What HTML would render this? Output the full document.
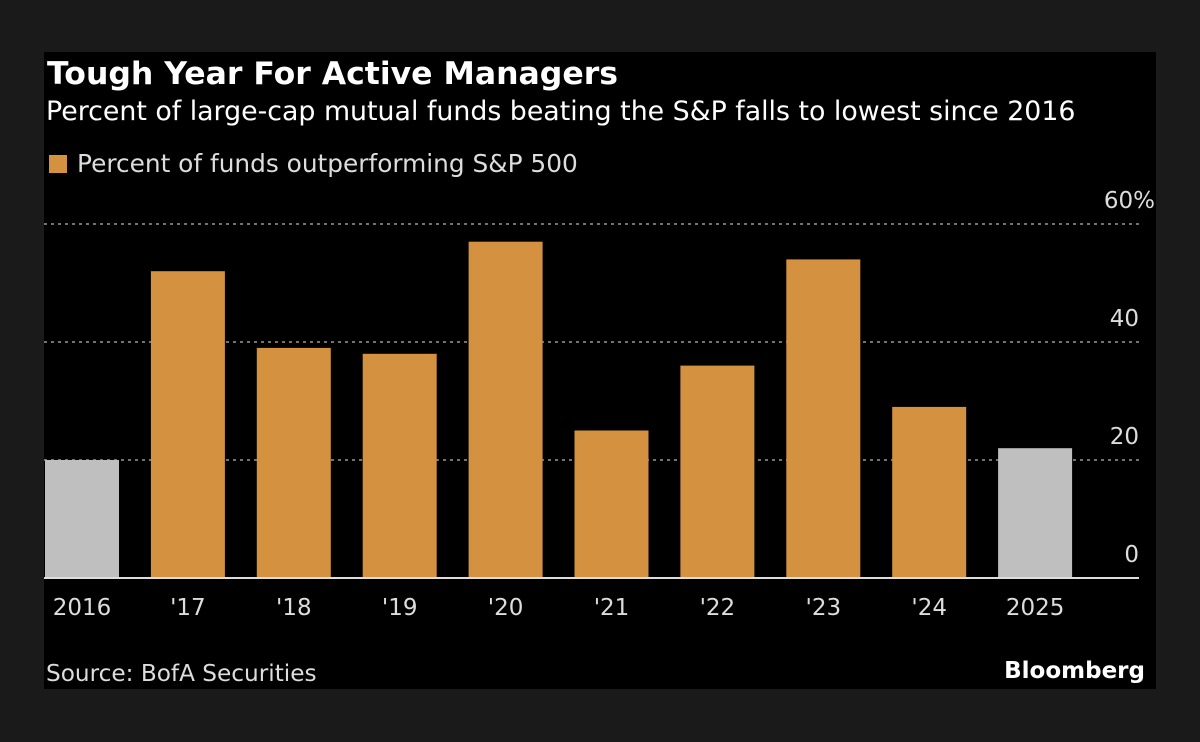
<!DOCTYPE html>
<html><head><meta charset="utf-8"><style>
html,body{margin:0;padding:0;background:#1a1a1a;width:1200px;height:742px;overflow:hidden}
svg{display:block}
text{font-family:"DejaVu Sans","Liberation Sans",sans-serif}
</style></head><body>
<svg width="1200" height="742">
<rect x="0" y="0" width="1200" height="742" fill="#1a1a1a"/>
<rect x="44" y="52" width="1112" height="637" fill="#000"/>
<text x="47" y="84" fill="#fff" font-size="31.5" font-weight="bold">Tough Year For Active Managers</text>
<text x="46" y="120" fill="#fff" font-size="26.8">Percent of large-cap mutual funds beating the S&amp;P falls to lowest since 2016</text>
<rect x="49" y="155" width="18" height="18" fill="#d4913f"/>
<text x="77" y="172" fill="#ddd" font-size="24.8">Percent of funds outperforming S&amp;P 500</text>
<g id="grid"></g>
<g id="bars"></g>
<g id="xlabels"></g>
<line x1="44" x2="1139" y1="578" y2="578" stroke="#ddd" stroke-width="2"/>
<text x="46" y="681" fill="#ddd" font-size="23.2">Source: BofA Securities</text>
<text x="1145" y="678" fill="#fff" font-size="23" font-weight="bold" text-anchor="end">Bloomberg</text>
</svg>
<script>
const categories = ["2016","'17","'18","'19","'20","'21","'22","'23","'24","2025"];
const values = [20, 52, 39, 38, 57, 25, 36, 54, 29, 22];
const highlight = [true, false, false, false, false, false, false, false, false, true];
const tickValues = [0, 20, 40, 60];
const tickLabels = ["0", "20", "40", "60%"];

const NS = "http://www.w3.org/2000/svg";
const y0 = 578, pxPerUnit = 118 / 20;
const yScale = v => y0 - v * pxPerUnit;
const step = 105.9, barW = 74, x0 = 45;
const xScale = i => x0 + i * step;

function mk(tag, attrs, parent) {
  const el = document.createElementNS(NS, tag);
  for (const k in attrs) el.setAttribute(k, attrs[k]);
  parent.appendChild(el);
  return el;
}

const grid = document.getElementById('grid');
tickValues.forEach((v, i) => {
  const y = yScale(v);
  if (v !== 0) {
    const l = mk('line', {x1: 44, x2: 1139, y1: y, y2: y, stroke: '#999', 'stroke-width': 1.5, 'stroke-dasharray': '3,4'}, grid);
    
    
  }
  const t = mk('text', {x: v === 60 ? 1155 : 1139, y: y - 16, fill: '#ddd', 'font-size': 23, 'text-anchor': 'end'}, grid);
  t.textContent = tickLabels[i];
  
  
});

const bars = document.getElementById('bars');
const xl = document.getElementById('xlabels');
categories.forEach((c, i) => {
  const x = xScale(i), y = yScale(values[i]);
  const r = mk('rect', {x: x, y: y, width: barW, height: y0 - y, fill: highlight[i] ? '#bfbfbf' : '#d4913f'}, bars);
  
  
  const t = mk('text', {x: x + barW / 2, y: 615, fill: '#ddd', 'font-size': 23, 'text-anchor': 'middle'}, xl);
  t.textContent = c;
  
  
});
</script>
</body></html>
